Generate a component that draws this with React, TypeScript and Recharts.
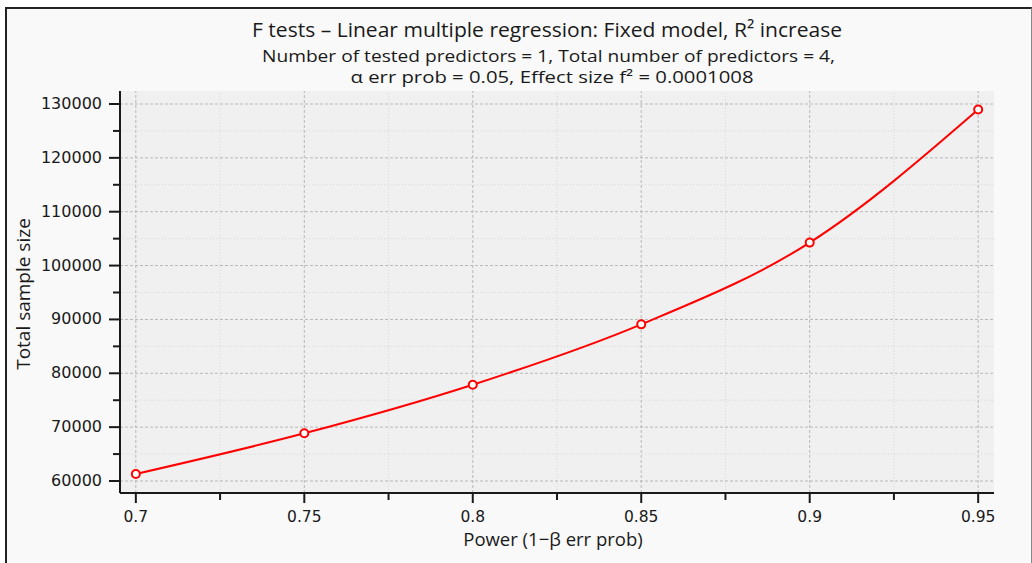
import { CartesianGrid, Line, LineChart, ReferenceLine, XAxis, YAxis } from 'recharts';

// power (1 - beta) values and the total sample size needed
const powerValues = [0.7, 0.75, 0.8, 0.85, 0.9, 0.95];
const sampleSizes = [61310, 68850, 77877, 89087, 104266, 128968];

const xMajorTicks = [0.7, 0.75, 0.8, 0.85, 0.9, 0.95];
const xMinorTicks = [0.725, 0.775, 0.825, 0.875, 0.925];
const yMajorTicks = [60000, 70000, 80000, 90000, 100000, 110000, 120000, 130000];
const yMinorTicks = [65000, 75000, 85000, 95000, 105000, 115000, 125000];

const data = powerValues.map((p, i) => ({ power: p, n: sampleSizes[i] }));

const TICK_FONT = '"DejaVu Sans", sans-serif';
const TEXT_FONT = '"Open Sans", sans-serif';
const INK = '#1a1a1a';

function XTick({ x, y, payload }: any) {
  const major = xMajorTicks.includes(payload.value);
  return (
    <g>
      <line x1={x} x2={x} y1={y} y2={y + (major ? 10 : 7)} stroke={INK} strokeWidth={2} />
      {major && (
        <text x={x} y={y + 29} textAnchor="middle" fontSize={15.5} fontFamily={TICK_FONT} fill={INK}>
          {payload.value}
        </text>
      )}
    </g>
  );
}

function YTick({ x, y, payload }: any) {
  const major = yMajorTicks.includes(payload.value);
  return (
    <g>
      <line x1={x - (major ? 11 : 7)} x2={x} y1={y} y2={y} stroke={INK} strokeWidth={2} />
      {major && (
        <text x={x - 18} y={y + 5} textAnchor="end" fontSize={16} fontFamily={TICK_FONT} fill={INK}>
          {payload.value}
        </text>
      )}
    </g>
  );
}

export default function App() {
  const xTicks = [...xMajorTicks, ...xMinorTicks].sort((a, b) => a - b);
  const yTicks = [...yMajorTicks, ...yMinorTicks].sort((a, b) => a - b);

  return (
    <div style={{ position: 'absolute', left: 0, top: 0, width: 1032, height: 563, background: '#fff', overflow: 'hidden' }}>
      {/* outer frame */}
      <div
        style={{
          position: 'absolute',
          left: 5,
          top: 7,
          width: 1024,
          height: 600,
          borderLeft: '2px solid #222',
          borderTop: '2px solid #222',
          borderRight: '1px solid #888',
          background: '#f9f9f9',
        }}
      />
      <div style={{ position: 'absolute', left: 0, top: 0 }}>
        <LineChart width={1032} height={563} data={data} margin={{ top: 91, right: 38, bottom: 0, left: 0 }}>
          <CartesianGrid horizontal={false} vertical={false} fill="#f0f0f0" stroke="none" />
          {xMinorTicks.map((v) => (
            <ReferenceLine key={`xm-${v}`} x={v} stroke="#d6d6d6" strokeDasharray="1 2" />
          ))}
          {yMinorTicks.map((v) => (
            <ReferenceLine key={`ym-${v}`} y={v} stroke="#d6d6d6" strokeDasharray="1 2" />
          ))}
          {xMajorTicks.map((v) => (
            <ReferenceLine key={`xM-${v}`} x={v} stroke="#b8b8b8" strokeDasharray="3 2" />
          ))}
          {yMajorTicks.map((v) => (
            <ReferenceLine key={`yM-${v}`} y={v} stroke="#b8b8b8" strokeDasharray="3 2" />
          ))}
          <XAxis
            dataKey="power"
            type="number"
            domain={[0.6953, 0.9547]}
            ticks={xTicks}
            interval={0}
            tickSize={0}
            tickMargin={0}
            tickLine={false}
            axisLine={{ stroke: INK, strokeWidth: 2 }}
            tick={<XTick />}
            height={70}
            allowDataOverflow
          />
          <YAxis
            type="number"
            domain={[57772, 132414]}
            ticks={yTicks}
            interval={0}
            tickSize={0}
            tickMargin={0}
            tickLine={false}
            axisLine={{ stroke: INK, strokeWidth: 2 }}
            tick={<YTick />}
            width={120}
            allowDataOverflow
          />
          <Line
            dataKey="n"
            type="monotone"
            stroke="#ff0000"
            strokeWidth={2}
            dot={{ r: 4, fill: '#fff', stroke: '#ff0000', strokeWidth: 2 }}
            isAnimationActive={false}
          />
          <text
            x={547}
            y={37}
            textAnchor="middle"
            fontSize={20}
            fontFamily={TEXT_FONT}
            fill={INK}
            textLength={590}
            lengthAdjust="spacingAndGlyphs"
          >
            F tests – Linear multiple regression: Fixed model, R² increase
          </text>
          <text
            x={548.5}
            y={62}
            textAnchor="middle"
            fontSize={17}
            fontFamily={TEXT_FONT}
            fill={INK}
            textLength={573}
            lengthAdjust="spacingAndGlyphs"
          >
            Number of tested predictors = 1, Total number of predictors = 4,
          </text>
          <text
            x={552}
            y={83}
            textAnchor="middle"
            fontSize={17}
            fontFamily={TEXT_FONT}
            fill={INK}
            textLength={403}
            lengthAdjust="spacingAndGlyphs"
          >
            α err prob = 0.05, Effect size f² = 0.0001008
          </text>
          <text x={553} y={546} textAnchor="middle" fontSize={18.5} fontFamily={TEXT_FONT} fill={INK}>
            Power (1−β err prob)
          </text>
          <text
            x={30}
            y={294}
            textAnchor="middle"
            fontSize={19}
            fontFamily={TEXT_FONT}
            fill={INK}
            transform="rotate(-90 30 294)"
          >
            Total sample size
          </text>
        </LineChart>
      </div>
    </div>
  );
}
